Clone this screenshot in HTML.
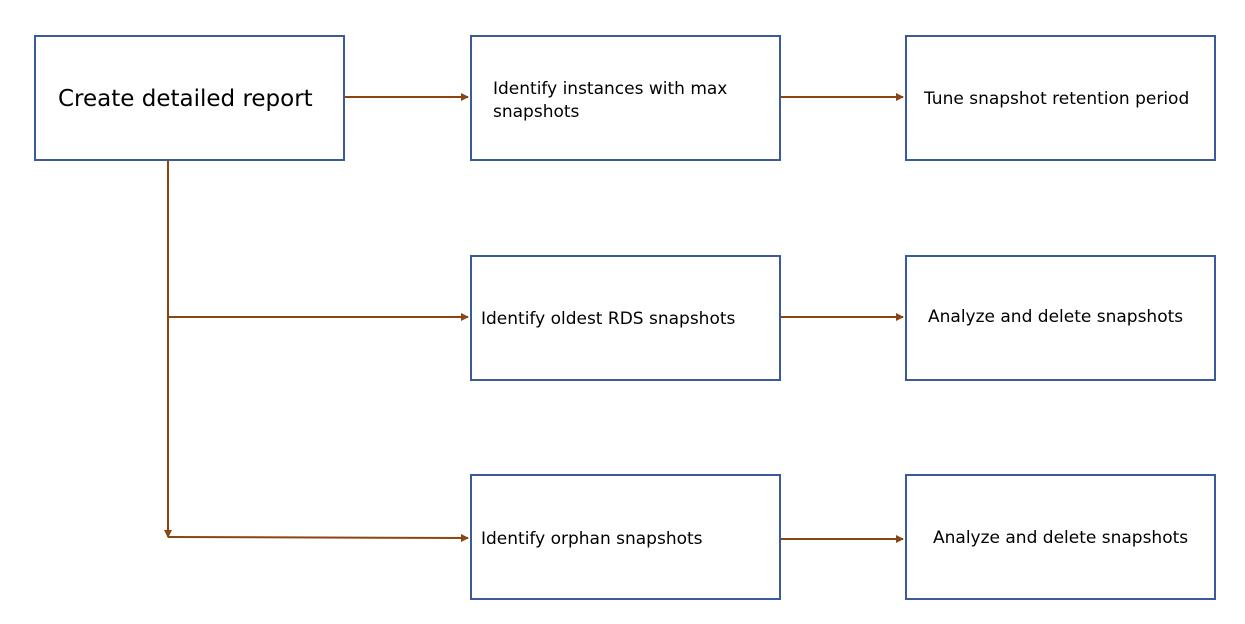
<!DOCTYPE html>
<html><head><style>
body{margin:0;width:1245px;height:624px;background:#fff;font-family:"DejaVu Sans","Liberation Sans",sans-serif;position:relative;overflow:hidden}
.b{position:absolute;border:2.5px solid #3b5a9a;box-sizing:border-box;width:311px;height:126px;font-size:17px;color:#000}
.b span{position:absolute;left:0;top:50%;transform:translateY(-50%)}
</style></head><body>
<svg width="1245" height="624" style="position:absolute;left:0;top:0">
<defs><marker id="a" markerWidth="8" markerHeight="8" refX="7" refY="4" orient="auto" markerUnits="userSpaceOnUse"><path d="M0,0 L8,4 L0,8z" fill="#8b4513"/></marker></defs>
<g stroke="#8b4513" stroke-width="2" fill="none">
<line x1="345" y1="97" x2="468" y2="97" marker-end="url(#a)"/>
<line x1="781" y1="97" x2="903" y2="97" marker-end="url(#a)"/>
<line x1="168" y1="161" x2="168" y2="537" marker-end="url(#a)"/>
<line x1="168" y1="317" x2="468" y2="317" marker-end="url(#a)"/>
<line x1="168" y1="537" x2="468" y2="538" marker-end="url(#a)"/>
<line x1="781" y1="317" x2="903" y2="317" marker-end="url(#a)"/>
<line x1="781" y1="539" x2="903" y2="539" marker-end="url(#a)"/>
</g></svg>
<div class="b" style="left:34px;top:35px;font-size:23px"><span style="left:22px;top:62px">Create detailed report</span></div>
<div class="b" style="left:470px;top:35px"><span style="left:21px;top:64px;line-height:23px">Identify instances with max<br>snapshots</span></div>
<div class="b" style="left:905px;top:35px"><span style="left:17px;top:62px">Tune snapshot retention period</span></div>
<div class="b" style="left:470px;top:255px"><span style="left:9px;top:62px">Identify oldest RDS snapshots</span></div>
<div class="b" style="left:905px;top:255px"><span style="left:21px;top:60px">Analyze and delete snapshots</span></div>
<div class="b" style="left:470px;top:474px"><span style="left:9px;top:63px">Identify orphan snapshots</span></div>
<div class="b" style="left:905px;top:474px"><span style="left:26px;top:62px">Analyze and delete snapshots</span></div>
</body></html>
